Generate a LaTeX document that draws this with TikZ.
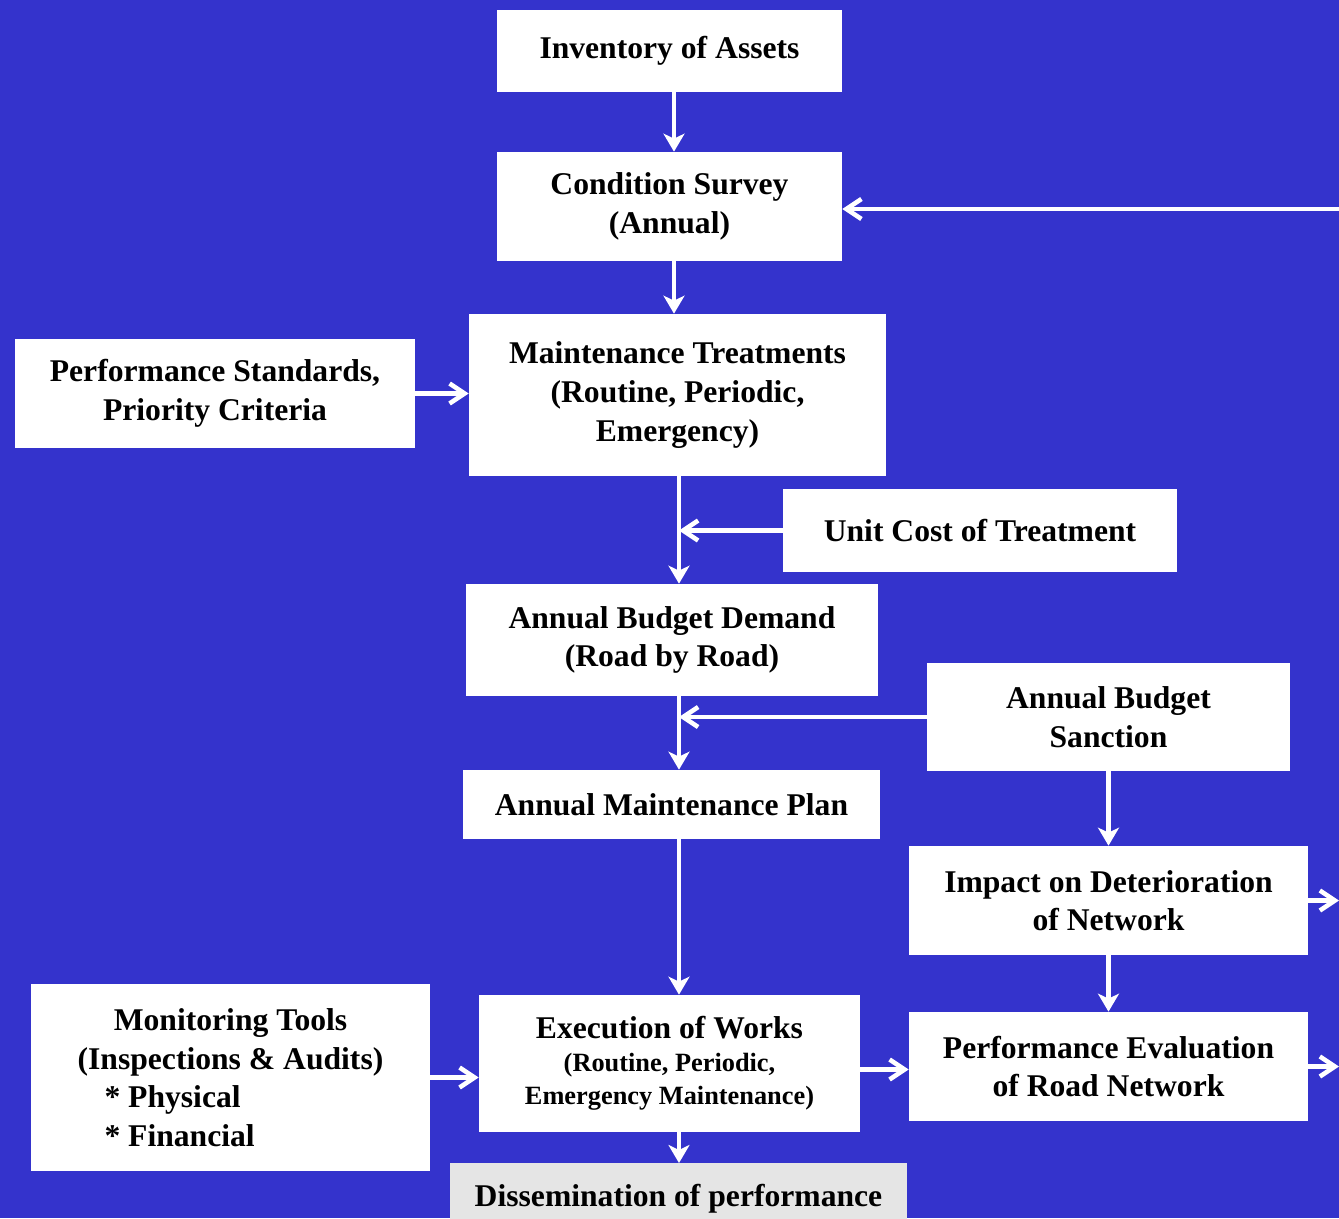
\documentclass[tikz,border=0pt]{standalone}
\usepackage{fontspec}
\setmainfont{Liberation Serif}
\usepackage{tikz}
\definecolor{Sfondo}{RGB}{52, 51, 204}
\definecolor{Grey10}{RGB}{229, 229, 229}
\usetikzlibrary{positioning, arrows.meta}
\newcommand{\piccolofont}{\fontsize{15}{18.7}\selectfont}
\newcommand{\grandefont}{\fontsize{18}{22}\selectfont}
\tikzset{
    blocco/.style = {fill=white, align=center, inner sep=2pt, font=\grandefont\bfseries},
    freccia/.style = {draw=white, line width=2.6pt, arrows = {-Stealth[length=0.36cm, width=0.42cm, inset=0.1cm]}},
    freccia aperta/.style = {draw=white, line width=2.6pt, arrows = {-Straight Barb[length=0.3cm, width=0.4cm]}}
}
\begin{document}
\begin{tikzpicture}[
        x=0.02cm, y=-0.02cm
    ]
    \useasboundingbox (0,0) rectangle (1339,1218);
    \fill[Sfondo] (0,0) rectangle (1339,1218);

    % spine and right edge
    \coordinate (asse) at (679,0);
    \coordinate (bordo) at (1339,0);
    \coordinate (fuori) at (1360,209);

    \node (inventario) at (669.5,51)  [blocco, minimum width=6.9cm, minimum height=1.64cm] {Inventory of Assets};
    \node (rilievo)    at (669.5,206.5) [blocco, minimum width=6.9cm, minimum height=2.18cm] {Condition Survey\\(Annual)};
    \node (trattamenti) at (677.5,395) [blocco, minimum width=8.34cm, minimum height=3.24cm] {Maintenance Treatments\\(Routine, Periodic,\\Emergency)};
    \node (standard)   at (215,393.5) [blocco, minimum width=8cm, minimum height=2.18cm] {Performance Standards,\\Priority Criteria};
    \node (costo)      at (980,530.5) [blocco, minimum width=7.88cm, minimum height=1.66cm] {Unit Cost of Treatment};
    \node (domanda)    at (672,640)   [blocco, minimum width=8.24cm, minimum height=2.24cm] {Annual Budget Demand\\(Road by Road)};
    \node (sanzione)   at (1108.5,717) [blocco, minimum width=7.26cm, minimum height=2.16cm] {Annual Budget\\Sanction};
    \node (piano)      at (671.5,804.5) [blocco, minimum width=8.34cm, minimum height=1.38cm] {Annual Maintenance Plan};
    \node (impatto)    at (1108.5,900.5) [blocco, minimum width=7.98cm, minimum height=2.18cm] {Impact on Deterioration\\of Network};
    \node (monitoraggio) at (230.5,1077.5) [blocco, minimum width=7.98cm, minimum height=3.74cm] {Monitoring Tools\\(Inspections \& Audits)\\\makebox[6.16cm][l]{\hspace{0.56cm}* Physical}\\\makebox[6.16cm][l]{\hspace{0.56cm}* Financial}};
    \node (esecuzione) at (669.5,1063.5) [blocco, font=\piccolofont\bfseries, minimum width=7.62cm, minimum height=2.74cm] {{\grandefont Execution of Works}\\(Routine, Periodic,\\Emergency Maintenance)};
    \node (valutazione) at (1108.5,1066.5) [blocco, minimum width=7.98cm, minimum height=2.18cm] {Performance Evaluation\\of Road Network};
    \node (diffusione) at (678.5,1163) [blocco, anchor=north, fill=Grey10, minimum width=9.14cm, minimum height=1.4cm] {Dissemination of performance};

    \draw[freccia] ([xshift=0.09cm]inventario.south) -- ([xshift=0.09cm]rilievo.north);
    \draw[freccia] ([xshift=0.09cm]rilievo.south) -- ([xshift=0.09cm]rilievo.south |- trattamenti.north);
    \draw[freccia aperta] (fuori) -- (rilievo.east |- fuori);
    \draw[freccia aperta] (standard.east) -- (standard.east -| trattamenti.west);
    \draw[freccia] (trattamenti.south -| asse) -- (domanda.north -| asse);
    \draw[freccia aperta] (costo.west) -- (costo.west -| asse);
    \draw[freccia] (domanda.south -| asse) -- (piano.north -| asse);
    \draw[freccia aperta] (sanzione.west) -- (sanzione.west -| asse);
    \draw[freccia] (sanzione.south) -- (impatto.north);
    \draw[freccia] (piano.south -| asse) -- (esecuzione.north -| asse);
    \draw[freccia] (impatto.south) -- (valutazione.north);
    \draw[freccia aperta] (impatto.east) -- (impatto.east -| bordo);
    \draw[freccia aperta] (valutazione.east) -- (valutazione.east -| bordo);
    \draw[freccia aperta] ([yshift=-0.12cm]esecuzione.east) -- ([yshift=-0.12cm]esecuzione.east -| valutazione.west);
    \draw[freccia aperta] (monitoraggio.east) -- (monitoraggio.east -| esecuzione.west);
    \draw[freccia] (esecuzione.south -| asse) -- (diffusione.north -| asse);

\end{tikzpicture}
\end{document}
